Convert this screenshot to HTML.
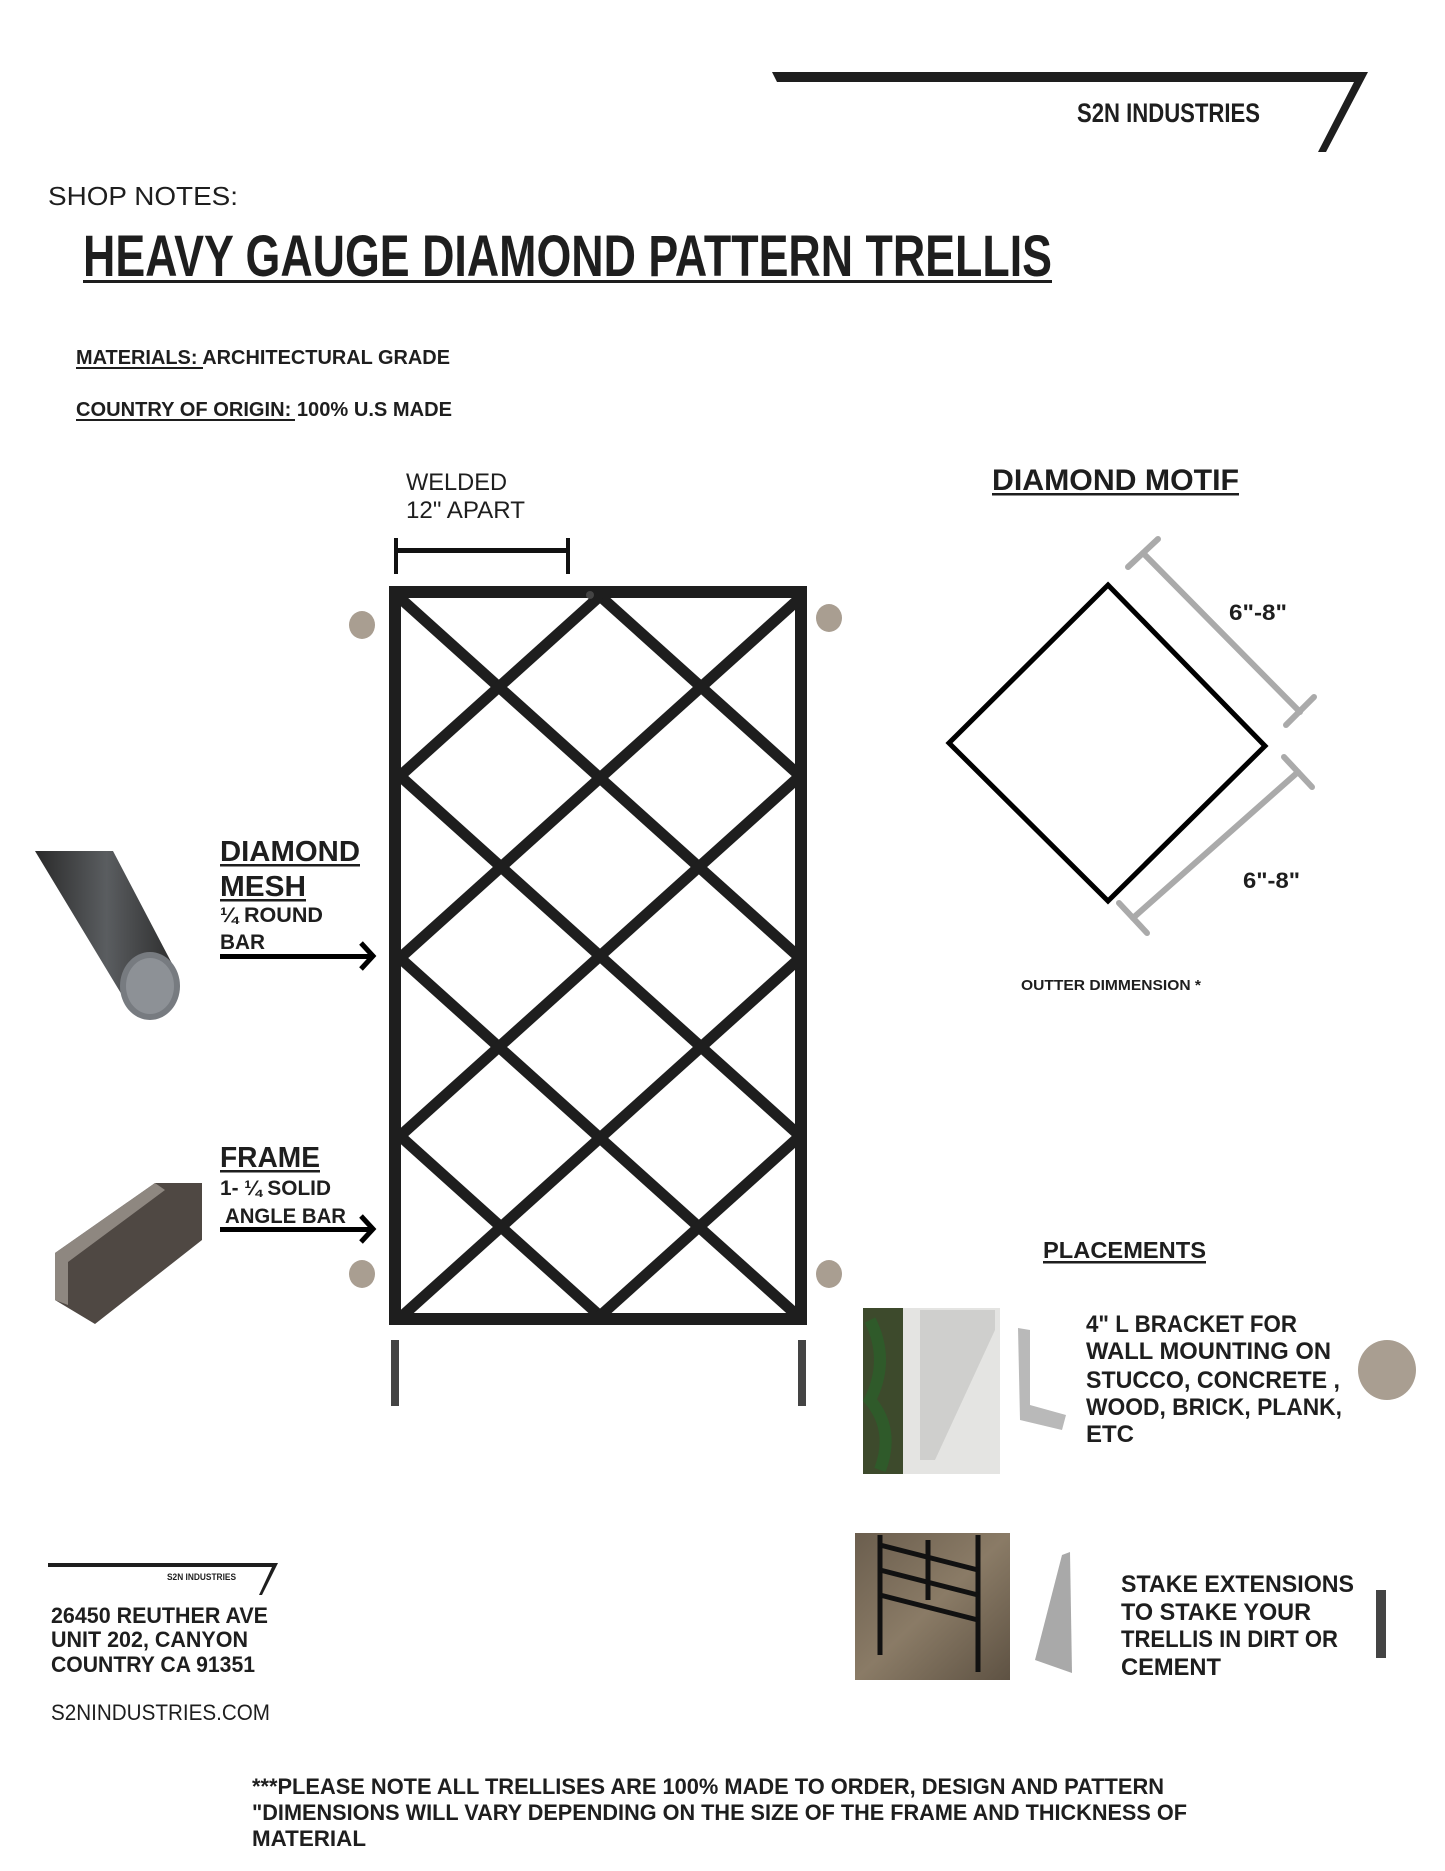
<!DOCTYPE html>
<html><head><meta charset="utf-8"><style>
html,body{margin:0;padding:0;background:#fff}
svg{display:block}
text{font-family:"Liberation Sans",sans-serif;font-weight:bold;fill:#1e1e1e}
</style></head><body>
<svg width="1445" height="1871" viewBox="0 0 1445 1871" xmlns="http://www.w3.org/2000/svg">
<defs>
<clipPath id="inner"><rect x="395" y="592" width="406" height="727"/></clipPath>
<linearGradient id="rb" x1="0" y1="0" x2="1" y2="0"><stop offset="0" stop-color="#2a2a2a"/><stop offset=".5" stop-color="#5a5d60"/><stop offset="1" stop-color="#2b2b2b"/></linearGradient>
<linearGradient id="ground" x1="0" y1="0" x2="1" y2="1"><stop offset="0" stop-color="#6b5e4e"/><stop offset=".5" stop-color="#8a7b66"/><stop offset="1" stop-color="#5e5243"/></linearGradient>
</defs>
<!-- header logo -->
<polygon points="772,72 1368,72 1326,152 1318,152 1354,82 777,82" fill="#1e1e1e"/>
<text x="1077" y="122" font-size="27" textLength="183" lengthAdjust="spacingAndGlyphs">S2N INDUSTRIES</text>
<text x="48" y="205" font-size="26" font-weight="normal" textLength="190" lengthAdjust="spacingAndGlyphs" style="font-weight:normal">SHOP NOTES:</text>
<text x="83" y="276" font-size="58" textLength="969" lengthAdjust="spacingAndGlyphs">HEAVY GAUGE DIAMOND PATTERN TRELLIS</text>
<rect x="83" y="280" width="969" height="3" fill="#1e1e1e"/>
<text x="76" y="364" font-size="20" textLength="374" lengthAdjust="spacingAndGlyphs">MATERIALS: ARCHITECTURAL GRADE</text>
<rect x="76" y="367" width="127" height="2" fill="#1e1e1e"/>
<text x="76" y="416" font-size="20" textLength="376" lengthAdjust="spacingAndGlyphs">COUNTRY OF ORIGIN:  100% U.S MADE</text>
<rect x="76" y="419" width="219" height="2" fill="#1e1e1e"/>
<!-- welded -->
<text x="406" y="490" font-size="24" textLength="101" lengthAdjust="spacingAndGlyphs" style="font-weight:normal">WELDED</text>
<text x="406" y="518" font-size="24" textLength="119" lengthAdjust="spacingAndGlyphs" style="font-weight:normal">12" APART</text>
<rect x="395" y="548" width="173" height="5" fill="#111"/>
<rect x="394" y="538" width="4" height="36" fill="#111"/>
<rect x="566" y="538" width="4" height="36" fill="#111"/>
<!-- trellis -->
<g clip-path="url(#inner)" stroke="#1e1e1e" stroke-width="11" fill="none">
<line x1="400" y1="598" x2="800" y2="958"/>
<line x1="600" y1="596" x2="800" y2="776"/>
<line x1="400" y1="776" x2="800" y2="1136"/>
<line x1="400" y1="958" x2="800" y2="1318"/>
<line x1="400" y1="1136" x2="600" y2="1316"/>
<line x1="800" y1="598" x2="400" y2="958"/>
<line x1="600" y1="596" x2="400" y2="776"/>
<line x1="800" y1="776" x2="400" y2="1136"/>
<line x1="800" y1="958" x2="400" y2="1318"/>
<line x1="800" y1="1136" x2="600" y2="1316"/>
</g>
<rect x="395" y="592" width="406" height="727" fill="none" stroke="#1e1e1e" stroke-width="12"/>
<circle cx="590" cy="595" r="4" fill="#444"/>
<g fill="#a99e91">
<ellipse cx="362" cy="625" rx="13" ry="14"/>
<ellipse cx="829" cy="618" rx="13" ry="14"/>
<ellipse cx="362" cy="1274" rx="13" ry="14"/>
<ellipse cx="829" cy="1274" rx="13" ry="14"/>
<ellipse cx="1387" cy="1370" rx="29" ry="30"/>
</g>
<rect x="391" y="1340" width="8" height="66" fill="#444"/>
<rect x="798" y="1340" width="8" height="66" fill="#444"/>
<rect x="1376" y="1590" width="10" height="68" fill="#444"/>
<!-- diamond motif -->
<text x="992" y="490" font-size="30" textLength="247" lengthAdjust="spacingAndGlyphs">DIAMOND MOTIF</text>
<rect x="992" y="493" width="247" height="2.5" fill="#1e1e1e"/>
<polygon points="1108,585 1265,746 1108,901 949,743" fill="none" stroke="#000" stroke-width="5"/>
<g stroke="#aaa" stroke-width="6" stroke-linecap="round">
<line x1="1143" y1="553" x2="1300" y2="712"/>
<line x1="1128" y1="567" x2="1158" y2="539"/>
<line x1="1286" y1="725" x2="1314" y2="697"/>
<line x1="1298" y1="772" x2="1133" y2="918"/>
<line x1="1284" y1="757" x2="1312" y2="787"/>
<line x1="1119" y1="903" x2="1147" y2="933"/>
</g>
<text x="1229" y="620" font-size="22" textLength="58" lengthAdjust="spacingAndGlyphs">6"-8"</text>
<text x="1243" y="888" font-size="22" textLength="57" lengthAdjust="spacingAndGlyphs">6"-8"</text>
<text x="1021" y="990" font-size="15" textLength="180" lengthAdjust="spacingAndGlyphs">OUTTER DIMMENSION *</text>
<!-- left labels -->
<text x="220" y="861" font-size="29" textLength="140" lengthAdjust="spacingAndGlyphs">DIAMOND</text>
<rect x="220" y="864" width="140" height="2.5" fill="#1e1e1e"/>
<text x="220" y="896" font-size="29" textLength="86" lengthAdjust="spacingAndGlyphs">MESH</text>
<rect x="220" y="899" width="86" height="2.5" fill="#1e1e1e"/>
<text x="220" y="922" font-size="21" textLength="103" lengthAdjust="spacingAndGlyphs">¼ ROUND</text>
<text x="220" y="949" font-size="21" textLength="45" lengthAdjust="spacingAndGlyphs">BAR</text>
<rect x="220" y="954" width="150" height="5" fill="#000"/>
<polyline points="361,943 373,956 361,969" fill="none" stroke="#000" stroke-width="5"/>
<text x="220" y="1167" font-size="29" textLength="100" lengthAdjust="spacingAndGlyphs">FRAME</text>
<rect x="220" y="1170" width="100" height="2.5" fill="#1e1e1e"/>
<text x="220" y="1195" font-size="21" textLength="111" lengthAdjust="spacingAndGlyphs">1- ¼ SOLID</text>
<text x="225" y="1223" font-size="21" textLength="121" lengthAdjust="spacingAndGlyphs">ANGLE BAR</text>
<rect x="220" y="1227" width="150" height="5" fill="#000"/>
<polyline points="361,1216 373,1229 361,1242" fill="none" stroke="#000" stroke-width="5"/>
<!-- round bar image -->
<g>
<polygon points="35,851 113,851 178,975 125,1000" fill="url(#rb)"/>
<ellipse cx="150" cy="986" rx="30" ry="34" fill="#777b80"/>
<ellipse cx="150" cy="986" rx="24" ry="28" fill="#8d9196"/>
</g>
<!-- angle bar image -->
<polygon points="55,1253 155,1183 202,1183 202,1240 95,1324 55,1300" fill="#4f4843"/>
<polygon points="55,1253 155,1183 165,1190 68,1262 68,1305 55,1300" fill="#8e8780"/>
<!-- placements -->
<text x="1043" y="1258" font-size="23" textLength="163" lengthAdjust="spacingAndGlyphs">PLACEMENTS</text>
<rect x="1043" y="1261" width="163" height="2.5" fill="#1e1e1e"/>
<rect x="863" y="1308" width="137" height="166" fill="#e4e4e2"/>
<rect x="863" y="1308" width="40" height="166" fill="#3d4a2c"/>
<path d="M870 1320 q20 40 0 80 q25 30 10 70" stroke="#2f5a2a" stroke-width="12" fill="none"/>
<polygon points="920,1310 995,1310 995,1330 935,1460 920,1460" fill="#cfcfcd"/>
<polygon points="1018,1328 1030,1330 1030,1405 1066,1415 1062,1430 1020,1420" fill="#b9b9b9"/>
<text x="1086" y="1332" font-size="24" textLength="211" lengthAdjust="spacingAndGlyphs">4" L BRACKET FOR</text>
<text x="1086" y="1359" font-size="24" textLength="245" lengthAdjust="spacingAndGlyphs">WALL MOUNTING ON</text>
<text x="1086" y="1388" font-size="24" textLength="254" lengthAdjust="spacingAndGlyphs">STUCCO, CONCRETE ,</text>
<text x="1086" y="1415" font-size="24" textLength="256" lengthAdjust="spacingAndGlyphs">WOOD, BRICK, PLANK,</text>
<text x="1086" y="1442" font-size="24" textLength="48" lengthAdjust="spacingAndGlyphs">ETC</text>
<rect x="855" y="1533" width="155" height="147" fill="url(#ground)"/>
<g stroke="#111" stroke-width="5">
<line x1="880" y1="1535" x2="880" y2="1655"/><line x1="978" y1="1535" x2="978" y2="1672"/>
<line x1="880" y1="1545" x2="978" y2="1570"/><line x1="880" y1="1570" x2="978" y2="1595"/><line x1="880" y1="1595" x2="978" y2="1620"/>
<line x1="928" y1="1540" x2="928" y2="1600"/>
</g>
<polygon points="1062,1555 1070,1552 1072,1673 1035,1660" fill="#a9a9a9"/>
<text x="1121" y="1592" font-size="24" textLength="233" lengthAdjust="spacingAndGlyphs">STAKE EXTENSIONS</text>
<text x="1121" y="1620" font-size="24" textLength="190" lengthAdjust="spacingAndGlyphs">TO STAKE YOUR</text>
<text x="1121" y="1647" font-size="24" textLength="217" lengthAdjust="spacingAndGlyphs">TRELLIS IN DIRT OR</text>
<text x="1121" y="1675" font-size="24" textLength="100" lengthAdjust="spacingAndGlyphs">CEMENT</text>
<!-- footer logo -->
<polygon points="48,1563 278,1563 262,1595 259,1595 272,1567 48,1567" fill="#1e1e1e"/>
<text x="167" y="1580" font-size="9" textLength="69" lengthAdjust="spacingAndGlyphs">S2N INDUSTRIES</text>
<text x="51" y="1623" font-size="22" textLength="217" lengthAdjust="spacingAndGlyphs">26450 REUTHER AVE</text>
<text x="51" y="1647" font-size="22" textLength="197" lengthAdjust="spacingAndGlyphs">UNIT 202, CANYON</text>
<text x="51" y="1672" font-size="22" textLength="204" lengthAdjust="spacingAndGlyphs">COUNTRY CA 91351</text>
<text x="51" y="1720" font-size="22" textLength="219" lengthAdjust="spacingAndGlyphs" style="font-weight:normal">S2NINDUSTRIES.COM</text>
<text x="252" y="1794" font-size="22" textLength="912" lengthAdjust="spacingAndGlyphs">***PLEASE NOTE ALL TRELLISES ARE 100% MADE TO ORDER, DESIGN AND PATTERN</text>
<text x="252" y="1820" font-size="22" textLength="935" lengthAdjust="spacingAndGlyphs">"DIMENSIONS WILL VARY DEPENDING ON THE SIZE OF THE FRAME AND THICKNESS OF</text>
<text x="252" y="1846" font-size="22" textLength="114" lengthAdjust="spacingAndGlyphs">MATERIAL</text>
</svg>
</body></html>
